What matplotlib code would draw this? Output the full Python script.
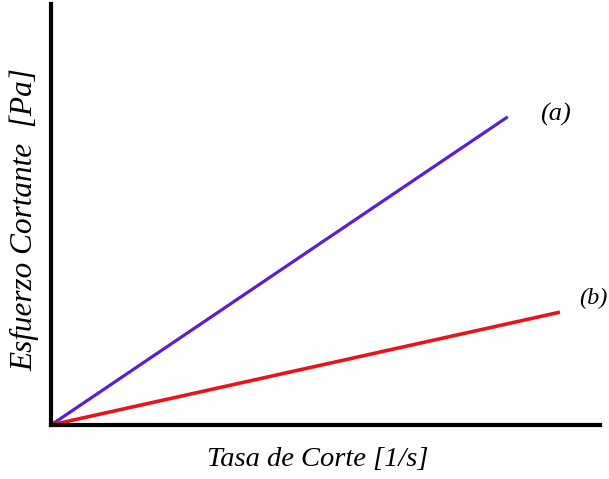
import matplotlib
matplotlib.use("Agg")
import matplotlib.pyplot as plt

# data (arbitrary units, linear Newtonian fluids)
x_a = [0, 83.2]
y_a = [0, 73.2]
x_b = [0, 92.7]
y_b = [0, 26.8]
labels = ["(a)", "(b)"]

W, H = 609, 479
fig = plt.figure(figsize=(W/100, H/100), dpi=100)
ax = fig.add_axes([51/W, (H-425)/H, (600-51)/W, (425-4)/H])
ax.set_xlim(0, 100)
ax.set_ylim(0, 100)
for s in ["top", "right"]:
    ax.spines[s].set_visible(False)
for s in ["left", "bottom"]:
    ax.spines[s].set_linewidth(3)
    ax.spines[s].set_color("black")
ax.set_xticks([])
ax.set_yticks([])

ax.plot(x_a, y_a, color="#5b1fd2", lw=2.3, solid_capstyle="butt", clip_on=False)
ax.plot(x_b, y_b, color="#e8141c", lw=2.6, solid_capstyle="butt", clip_on=False)

font = dict(family="Liberation Serif", style="italic")
fig.text(555/W, 1 - 114/H, labels[0], fontsize=19, ha="center", va="center", **font)
fig.text(593/W, 1 - 298/H, labels[1], fontsize=17.5, ha="center", va="center", **font)

fig.text(318/W, 1 - 460/H, "Tasa de Corte [1/s]", fontsize=20.5, ha="center", va="center", **font)
fig.text(25/W, 1 - 220/H, "Esfuerzo Cortante  [Pa]", fontsize=22.5, rotation=90, ha="center", va="center", **font)

fig.savefig("out.png", dpi=100)
